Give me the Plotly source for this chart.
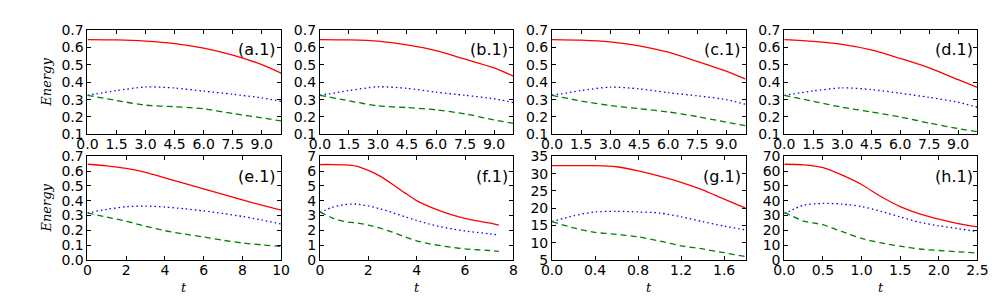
import plotly.graph_objects as go

# ---- data ----
labels = ["(a.1)", "(b.1)", "(c.1)", "(d.1)", "(e.1)", "(f.1)", "(g.1)", "(h.1)"]

t_top = [0, 1.5, 3.0, 4.5, 6.0, 7.5, 9.0, 10.0]
a_red = [0.646, 0.644, 0.637, 0.623, 0.597, 0.556, 0.502, 0.453]
a_blue = [0.325, 0.352, 0.373, 0.367, 0.349, 0.331, 0.310, 0.290]
a_green = [0.325, 0.295, 0.268, 0.259, 0.247, 0.220, 0.195, 0.177]

b_red = [0.646, 0.644, 0.637, 0.615, 0.582, 0.533, 0.483, 0.435]
b_blue = [0.325, 0.352, 0.374, 0.365, 0.343, 0.325, 0.305, 0.283]
b_green = [0.325, 0.293, 0.264, 0.254, 0.241, 0.218, 0.183, 0.163]

c_red = [0.646, 0.643, 0.633, 0.610, 0.573, 0.520, 0.464, 0.418]
c_blue = [0.325, 0.352, 0.372, 0.362, 0.340, 0.322, 0.300, 0.273]
c_green = [0.325, 0.292, 0.266, 0.248, 0.229, 0.202, 0.170, 0.150]

d_red = [0.646, 0.636, 0.618, 0.586, 0.537, 0.483, 0.415, 0.370]
d_blue = [0.325, 0.350, 0.368, 0.358, 0.337, 0.313, 0.285, 0.256]
d_green = [0.325, 0.290, 0.256, 0.229, 0.200, 0.165, 0.133, 0.115]

t_e = [0, 1, 2, 3, 4, 5, 6, 7, 8, 9, 10]
e_red = [0.647, 0.636, 0.619, 0.592, 0.555, 0.518, 0.481, 0.443, 0.406, 0.370, 0.336]
e_blue = [0.318, 0.342, 0.360, 0.364, 0.358, 0.346, 0.332, 0.314, 0.294, 0.270, 0.243]
e_green = [0.318, 0.290, 0.262, 0.228, 0.198, 0.175, 0.155, 0.133, 0.115, 0.102, 0.092]

t_f = [0, 0.5, 1.0, 1.5, 2.0, 2.5, 3.0, 3.5, 4.0, 4.5, 5.0, 5.5, 6.0, 6.5, 7.0, 7.4]
f_red = [6.45, 6.45, 6.43, 6.35, 6.05, 5.65, 5.12, 4.55, 4.01, 3.62, 3.30, 3.03, 2.81, 2.64, 2.50, 2.35]
f_blue = [3.20, 3.55, 3.74, 3.78, 3.65, 3.45, 3.20, 2.93, 2.67, 2.44, 2.24, 2.09, 1.96, 1.86, 1.77, 1.68]
f_green = [3.25, 2.85, 2.60, 2.50, 2.36, 2.15, 1.88, 1.57, 1.29, 1.10, 0.96, 0.84, 0.75, 0.69, 0.64, 0.58]

t_g = [0, 0.2, 0.4, 0.6, 0.8, 1.0, 1.2, 1.4, 1.6, 1.8]
g_red = [32.3, 32.3, 32.3, 32.0, 30.8, 29.3, 27.5, 25.3, 22.6, 20.0]
g_blue = [16.1, 17.8, 18.9, 19.1, 18.9, 18.6, 17.5, 16.1, 14.8, 13.7]
g_green = [16.1, 14.3, 13.0, 12.4, 11.7, 10.5, 9.1, 8.2, 7.1, 6.0]

t_h = [0, 0.25, 0.5, 0.75, 1.0, 1.25, 1.5, 1.75, 2.0, 2.25, 2.5]
h_red = [64.7, 64.3, 62.4, 57.3, 51.0, 42.9, 36.1, 31.2, 27.6, 24.6, 22.3]
h_blue = [31.2, 37.0, 38.2, 37.8, 36.1, 32.9, 29.1, 25.5, 23.1, 21.2, 19.1]
h_green = [32.3, 26.3, 23.8, 19.1, 14.6, 11.5, 9.3, 7.4, 6.4, 5.5, 4.7]

panels = [
    (t_top, a_red, a_blue, a_green),
    (t_top, b_red, b_blue, b_green),
    (t_top, c_red, c_blue, c_green),
    (t_top, d_red, d_blue, d_green),
    (t_e, e_red, e_blue, e_green),
    (t_f, f_red, f_blue, f_green),
    (t_g, g_red, g_blue, g_green),
    (t_h, h_red, h_blue, h_green),
]

x_ranges = [[0, 10]] * 4 + [[0, 10], [0, 8], [0, 1.8], [0, 2.5]]
x_dticks = [1.5] * 4 + [2, 2, 0.4, 0.5]
x_formats = [".1f"] * 4 + ["d", "d", ".1f", ".1f"]
y_ranges = [[0.1, 0.7]] * 4 + [[0, 0.7], [0, 7], [5, 35], [0, 70]]
y_dticks = [0.1] * 4 + [0.1, 1, 5, 10]
y_formats = [".1f"] * 4 + [".1f", "d", "d", "d"]

# ---- layout geometry ----
W, H = 1000, 300
col_px = [(70, 268), (307.7, 505.5), (545, 743), (782.5, 980)]
row_px = [(15, 125), (148.3, 257.7)]

fig = go.Figure()
tick_font = dict(family="DejaVu Sans", size=14, color="black")

for i, (t, red, blue, green) in enumerate(panels):
    r, c = divmod(i, 4)
    n = i + 1
    xa = "x" if n == 1 else f"x{n}"
    ya = "y" if n == 1 else f"y{n}"
    for vals, color, dash in ((red, "#ff0000", "solid"),
                              (blue, "#0000ff", "1.5px,3px"),
                              (green, "#008000", "6px,4px")):
        fig.add_trace(go.Scatter(x=t, y=vals, mode="lines", xaxis=xa, yaxis=ya,
                                 line=dict(color=color, width=1.3, dash=dash, shape="spline",
                                           smoothing=0.7),
                                 showlegend=False, hoverinfo="skip"))
    x0, x1 = col_px[c]
    y0, y1 = row_px[r]
    common = dict(showline=True, linecolor="black", linewidth=1, mirror="allticks",
                  ticks="inside", ticklen=4, tickcolor="black", showgrid=False,
                  zeroline=False, tickfont=tick_font)
    fig.layout[("xaxis" if n == 1 else f"xaxis{n}")] = dict(
        domain=[x0 / W, x1 / W], anchor=ya, range=x_ranges[i], dtick=x_dticks[i],
        tick0=0, tickformat=x_formats[i], ticklabelstandoff=-3, **common)
    fig.layout[("yaxis" if n == 1 else f"yaxis{n}")] = dict(
        domain=[1 - y1 / H, 1 - y0 / H], anchor=xa, range=y_ranges[i], dtick=y_dticks[i],
        tick0=0, tickformat=y_formats[i], **common)
    fig.add_annotation(text=labels[i], xref=f"{xa} domain", yref=f"{ya} domain",
                       x=0.985, y=0.81, xanchor="right", yanchor="middle", showarrow=False,
                       font=dict(family="DejaVu Sans", size=16, color="black"))
    if r == 1:
        fig.add_annotation(text="<i>t</i>", xref=f"{xa} domain", yref="paper",
                           x=0.5, y=1 - 287 / H, xanchor="center", yanchor="middle",
                           showarrow=False,
                           font=dict(family="DejaVu Serif", size=13, color="black"))
    if c == 0:
        fig.add_annotation(text="<i>Energy</i>", xref="paper", yref=f"{ya} domain",
                           x=28 / W, y=0.5, xanchor="center", yanchor="middle",
                           textangle=-90, showarrow=False,
                           font=dict(family="DejaVu Serif", size=13, color="black"))

fig.update_layout(width=W, height=H, margin=dict(l=0, r=0, t=0, b=0),
                  plot_bgcolor="white", paper_bgcolor="white")
fig.write_html("out.html")
